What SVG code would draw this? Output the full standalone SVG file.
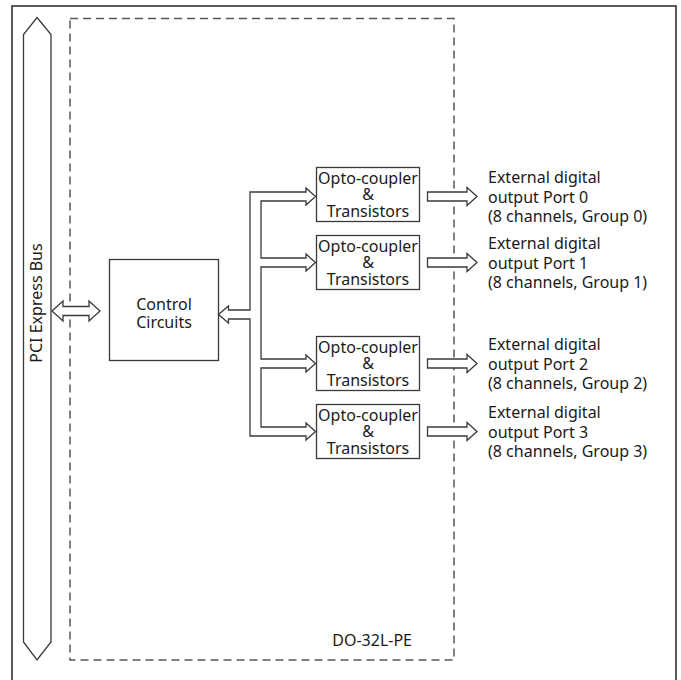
<svg xmlns="http://www.w3.org/2000/svg" width="681" height="680" viewBox="0 0 681 680">
  <style>
    .box { fill: #fff; stroke: #3a3a3a; stroke-width: 1.3; }
    .conn { fill: #fff; stroke: #3a3a3a; stroke-width: 1.3; stroke-linejoin: miter; }
    .dash { fill: none; stroke: #555; stroke-width: 1.5; stroke-dasharray: 8 5; }
    text { font-family: "Noto Sans", "Open Sans", "DejaVu Sans", sans-serif; font-size: 16px; fill: #1a1a1a; }
    .c { text-anchor: middle; }
  </style>
  <rect x="0" y="0" width="681" height="680" fill="#fff"/>
  <rect id="frame" x="12" y="6" width="664" height="690" fill="none" stroke="#333" stroke-width="1.6"/>

  <g id="board">
    <rect class="dash" x="70" y="18.5" width="384" height="641.5"/>
    <text x="412" y="646" text-anchor="end">DO-32L-PE</text>
  </g>

  <g id="pci-bus">
    <path class="box" d="M37,17.5 L51,34.5 L51,642 L37,660 L23.5,642 L23.5,34.5 Z"/>
    <text class="c" x="41.5" y="303" transform="rotate(-90 41.5 303)">PCI Express Bus</text>
  </g>

  <g id="control">
    <rect class="box" x="109.5" y="259.5" width="109" height="101"/>
    <text class="c" x="164" y="310">Control</text>
    <text class="c" x="164" y="328">Circuits</text>
  </g>

  <g id="opto0">
    <rect class="box" x="316.5" y="167.5" width="103" height="54"/>
    <text class="c" x="368" y="183.5">Opto-coupler</text>
    <text class="c" x="368" y="199.5">&amp;</text>
    <text class="c" x="368" y="217">Transistors</text>
  </g>
  <g id="opto1">
    <rect class="box" x="316.5" y="235.5" width="103" height="54"/>
    <text class="c" x="368" y="251.5">Opto-coupler</text>
    <text class="c" x="368" y="267.5">&amp;</text>
    <text class="c" x="368" y="285">Transistors</text>
  </g>
  <g id="opto2">
    <rect class="box" x="316.5" y="336.5" width="103" height="54"/>
    <text class="c" x="368" y="352.5">Opto-coupler</text>
    <text class="c" x="368" y="368.5">&amp;</text>
    <text class="c" x="368" y="386">Transistors</text>
  </g>
  <g id="opto3">
    <rect class="box" x="316.5" y="404.5" width="103" height="54"/>
    <text class="c" x="368" y="420.5">Opto-coupler</text>
    <text class="c" x="368" y="436.5">&amp;</text>
    <text class="c" x="368" y="454">Transistors</text>
  </g>

  <g id="port0">
    <text x="488" y="183">External digital</text>
    <text x="488" y="202.5">output Port 0</text>
    <text x="488" y="222">(8 channels, Group 0)</text>
  </g>
  <g id="port1">
    <text x="488" y="249">External digital</text>
    <text x="488" y="268.5">output Port 1</text>
    <text x="488" y="288">(8 channels, Group 1)</text>
  </g>
  <g id="port2">
    <text x="488" y="350">External digital</text>
    <text x="488" y="369.5">output Port 2</text>
    <text x="488" y="389">(8 channels, Group 2)</text>
  </g>
  <g id="port3">
    <text x="488" y="418">External digital</text>
    <text x="488" y="437.5">output Port 3</text>
    <text x="488" y="457">(8 channels, Group 3)</text>
  </g>

  <g id="connectors">
    <path class="conn" d="M52,311 L63,301 L63,306.5 L89,306.5 L89,301 L100,311 L89,321 L89,315.5 L63,315.5 L63,321 Z"/>
    <path class="conn" d="M218.5,314.5 L228.5,306 L228.5,310 L250,310 L250,192 L306,192 L306,188 L315.5,196.5 L306,205 L306,201 L261,201 L261,258 L306,258 L306,254 L315.5,262.5 L306,271 L306,267 L261,267 L261,359 L306,359 L306,355 L315.5,363.5 L306,372 L306,368 L261,368 L261,427 L306,427 L306,423 L315.5,431.5 L306,440 L306,436 L250,436 L250,319 L228.5,319 L228.5,323 Z"/>
    <path class="conn" d="M427.5,192 L467,192 L467,187.5 L477,196.5 L467,205.5 L467,201 L427.5,201 Z"/>
    <path class="conn" d="M427.5,258 L467,258 L467,253.5 L477,262.5 L467,271.5 L467,267 L427.5,267 Z"/>
    <path class="conn" d="M427.5,359 L467,359 L467,354.5 L477,363.5 L467,372.5 L467,368 L427.5,368 Z"/>
    <path class="conn" d="M427.5,427 L467,427 L467,422.5 L477,431.5 L467,440.5 L467,436 L427.5,436 Z"/>
  </g>
</svg>
